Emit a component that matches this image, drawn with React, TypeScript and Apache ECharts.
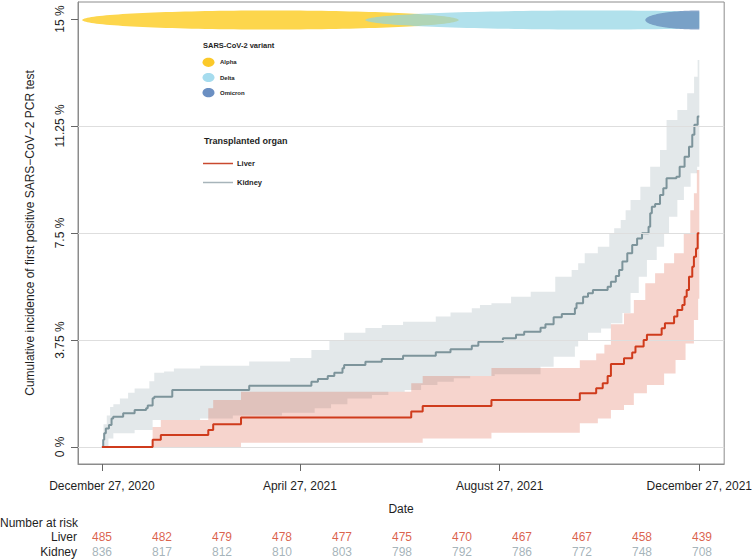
import React, { useEffect, useRef } from "react";
import * as echarts from "echarts";

// ---- axis ticks ----
const xTickDays = [0, 121, 243, 365];
const xTickLabels = ["December 27, 2020", "April 27, 2021", "August 27, 2021", "December 27, 2021"];
const yTicks = [0, 3.75, 7.5, 11.25, 15];
const gridValues = [0, 3.75, 7.5, 11.25];

// ---- cumulative incidence (days since Dec 27, 2020 ; percent) ----
const liverCurve = [[0,0],[31,0.25],[36,0.42],[65,0.6],[68,0.8],[85,1.03],[189,1.24],[196,1.44],[238,1.65],[292,1.88],[302,2.06],[306,2.23],[309,2.49],[311,2.91],[319,3.11],[324,3.31],[326,3.52],[331,3.75],[333,3.93],[342,4.16],[344,4.34],[349.6,4.57],[351.6,4.8],[354.6,4.98],[356,5.27],[357.3,5.5],[358.7,5.97],[360.7,6.32],[361.7,6.67],[363,6.96],[364,7.49],[365,7.49]];
const kidneyCurve = [[0,0],[0.8,0.25],[1.4,0.48],[2.4,0.65],[4.3,0.77],[5.9,1.0],[6.9,1.06],[13,1.18],[20,1.3],[27,1.36],[28,1.45],[31,1.71],[32,1.76],[43,2.0],[90,2.15],[128,2.29],[132,2.38],[138,2.49],[142,2.6],[147,2.76],[148,2.87],[161,2.99],[171,3.08],[184,3.2],[204,3.32],[213,3.43],[226,3.55],[230,3.69],[245,3.81],[253,3.93],[258,4.04],[268,4.18],[271,4.3],[276,4.55],[281,4.66],[289,4.86],[290,5.04],[294,5.27],[297,5.39],[300,5.5],[309,5.62],[311,5.79],[314,5.99],[316,6.2],[318,6.5],[321,6.79],[324,7.08],[327,7.31],[330,7.49],[334,7.72],[335,8.19],[336,8.42],[338,8.52],[341,8.83],[343,9.07],[345,9.42],[351,9.47],[353,9.82],[356,10.17],[358.7,10.52],[360.7,10.94],[362,11.29],[364,11.58],[365,11.58]];

// ---- confidence bands ----
const kidneyUpper = [[0,0],[1,0.8],[3,1.1],[5,1.4],[7,1.5],[11,1.7],[16,1.9],[20,2.05],[29,2.3],[32,2.6],[38,2.65],[44,2.75],[60,2.85],[90,3.0],[115,3.12],[128,3.4],[139,3.75],[148,4.0],[161,4.17],[171,4.28],[184,4.39],[204,4.57],[213,4.71],[226,4.86],[231,4.98],[238,5.04],[250,5.27],[262,5.44],[277,5.97],[287,6.2],[291,6.44],[295,6.79],[303,7.02],[310,7.49],[313,7.67],[317,7.96],[320,8.3],[323,8.66],[329,9.12],[335,9.82],[341,10.41],[345,11.46],[351.6,11.81],[357.6,12.4],[361.8,12.98],[364,13.56],[365,13.9]];
const kidneyLower = [[0,0],[4,0.3],[7,0.48],[20,0.6],[31,0.95],[60,1.0],[80,1.1],[110,1.2],[130,1.36],[140,1.5],[150,1.7],[165,1.82],[175,1.94],[185,2.0],[195,2.17],[205,2.29],[215,2.41],[225,2.49],[240,2.55],[268,2.81],[276,3.16],[289,3.52],[291,3.75],[297,4.0],[305,4.15],[311,4.34],[318,4.7],[323,5.4],[328,5.97],[333,6.55],[339,7.02],[343.5,7.49],[346.5,8.07],[351.6,8.66],[355.6,9.12],[359.7,9.59],[363.7,9.82],[365,9.82]];
const liverUpper = [[0,0],[31,0.7],[36,0.95],[65,1.36],[68,1.65],[85,1.94],[189,2.23],[196,2.49],[238,2.77],[292,3.04],[302,3.28],[307,3.58],[311,4.3],[319,4.69],[325,5.15],[332,5.74],[338,6.09],[343.5,6.44],[349.6,6.79],[355.5,7.49],[359.5,8.3],[361.7,8.89],[363.5,9.71],[365,9.8]];
const liverLower = [[0,0],[85,0.15],[196,0.3],[238,0.5],[292,0.83],[303,1.0],[311,1.3],[319,1.47],[325,1.88],[333,2.17],[343.5,2.58],[350.5,3.05],[356.6,3.63],[361.7,4.45],[364.3,5.2],[365,5.2]];

// ---- variant periods (days) ----
const variantNames = ["Alpha", "Delta", "Omicron"];
const variantStart = [-12, 161, 332];
const variantEnd = [218, 440, 398];
const variantLevel = 15;
const studyEndDay = 365;

// ---- number at risk ----
const riskDays = [0, 36.5, 73, 109.5, 146, 182.5, 219, 255.5, 292, 328.5, 365];
const liverRisk = [485, 482, 479, 478, 477, 475, 470, 467, 467, 458, 439];
const kidneyRisk = [836, 817, 812, 810, 803, 798, 792, 786, 772, 748, 708];

const FONT = "'Liberation Sans', Arial, sans-serif";
const LIVER = "#cf3b1c";
const KIDNEY = "#7d949b";
const TEXT = "#1e1e1e";
const BOX = "#8c8c8c";
const variantFill = ["rgb(253,214,76)", "rgba(144,212,228,0.7)", "rgba(100,136,184,0.72)"];
const variantLegendFill = ["#fbc92a", "#a6dcee", "#6b8fc2"];

function stepPoints(pts: number[][], api: any) {
  const out: number[][] = [];
  for (let i = 0; i < pts.length; i++) {
    const t = pts[i][0];
    if (i > 0) out.push(api.coord([t, pts[i - 1][1]]));
    out.push(api.coord([t, pts[i][1]]));
  }
  return out;
}

function bandSeries(upper: number[][], lower: number[][], fill: string, extra: any = {}) {
  return {
    type: "custom",
    coordinateSystem: "cartesian2d",
    xAxisIndex: 0,
    yAxisIndex: 0,
    silent: true,
    data: [[0, 0]],
    renderItem: (_p: any, api: any) => {
      const up = stepPoints(upper, api);
      const lo = stepPoints(lower, api).reverse();
      return { type: "polygon", shape: { points: up.concat(lo) }, style: { fill } };
    },
    ...extra,
  };
}

export default function App() {
  const ref = useRef<HTMLDivElement>(null);
  useEffect(() => {
    document.body.style.margin = "0";
    const chart = echarts.init(ref.current!, undefined, { renderer: "svg" });

    const ellipseSeries = {
      type: "custom",
      coordinateSystem: "cartesian2d",
      xAxisIndex: 0,
      yAxisIndex: 0,
      silent: true,
      data: variantNames.map((_, i) => [variantStart[i], variantEnd[i], i]),
      renderItem: (_p: any, api: any) => {
        const s = api.value(0), e = api.value(1), idx = api.value(2);
        const p0 = api.coord([s, variantLevel]);
        const p1 = api.coord([e, variantLevel]);
        const clipX = api.coord([studyEndDay, variantLevel])[0];
        const cx = (p0[0] + p1[0]) / 2, rx = (p1[0] - p0[0]) / 2, cy = p0[1] + 1;
        const ry = 9.5;
        const pts: number[][] = [];
        for (let k = 0; k < 160; k++) {
          const a = (k / 160) * Math.PI * 2;
          pts.push([Math.min(cx + rx * Math.cos(a), clipX), cy + ry * Math.sin(a)]);
        }
        return { type: "polygon", shape: { points: pts }, style: { fill: variantFill[idx] } };
      },
      z: 3,
    };

    const legendGraphics: any[] = [
      { type: "text", x: 203, y: 45, style: { text: "SARS-CoV-2 variant", fontFamily: FONT, fontWeight: "bold", fontSize: 7.5, fill: TEXT, align: "left", verticalAlign: "middle" } },
      { type: "text", x: 204, y: 141, style: { text: "Transplanted organ", fontFamily: FONT, fontWeight: "bold", fontSize: 9, fill: TEXT, align: "left", verticalAlign: "middle" } },
      { type: "line", shape: { x1: 203, y1: 163.5, x2: 233, y2: 163.5 }, style: { stroke: "#c9492f", lineWidth: 1.5 } },
      { type: "text", x: 237, y: 163.5, style: { text: "Liver", fontFamily: FONT, fontWeight: "bold", fontSize: 7.5, fill: TEXT, align: "left", verticalAlign: "middle" } },
      { type: "line", shape: { x1: 203, y1: 182.5, x2: 233, y2: 182.5 }, style: { stroke: "#a7b4ba", lineWidth: 1.5 } },
      { type: "text", x: 237, y: 182.5, style: { text: "Kidney", fontFamily: FONT, fontWeight: "bold", fontSize: 7.5, fill: TEXT, align: "left", verticalAlign: "middle" } },
      { type: "text", x: 78, y: 523, style: { text: "Number at risk", fontFamily: FONT, fontSize: 12, fill: TEXT, align: "right", verticalAlign: "middle" } },
    ];
    variantNames.forEach((n, i) => {
      const y = 62.3 + i * 15.2;
      legendGraphics.push({ type: "ellipse", shape: { cx: 208.5, cy: y, rx: 6, ry: 4.6 }, style: { fill: variantLegendFill[i] } });
      legendGraphics.push({ type: "text", x: 220, y, style: { text: n, fontFamily: FONT, fontWeight: "bold", fontSize: 6, fill: TEXT, align: "left", verticalAlign: "middle" } });
    });

    const riskLabel = (vals: number[], color: string) => ({
      show: true,
      position: "inside",
      formatter: (p: any) => String(vals[p.dataIndex]),
      color,
      fontSize: 12,
      fontFamily: FONT,
    });

    chart.setOption({
      animation: false,
      textStyle: { fontFamily: FONT },
      grid: [
        { left: 78, top: 2, width: 649, height: 462, show: true, borderColor: BOX, borderWidth: 1, backgroundColor: "transparent" },
        { left: 78, top: 529.5, width: 649, height: 30 },
      ],
      xAxis: [
        {
          type: "value", gridIndex: 0, min: -14.6, max: 380.2,
          axisLine: { show: true, onZero: false, lineStyle: { color: BOX } },
          axisTick: { show: true, customValues: xTickDays, length: 7, lineStyle: { color: "#666" } },
          axisLabel: { customValues: xTickDays, formatter: (v: number) => xTickLabels[xTickDays.indexOf(v)] ?? "", margin: 16, fontSize: 12, color: TEXT },
          splitLine: { show: false },
          name: "Date", nameLocation: "middle", nameGap: 39, nameTextStyle: { fontSize: 12, color: TEXT },
        },
        { type: "value", gridIndex: 1, min: -14.6, max: 380.2, show: false },
      ],
      yAxis: [
        {
          type: "value", gridIndex: 0, min: -0.596, max: 15.596,
          axisLine: { show: true, onZero: false, lineStyle: { color: BOX } },
          axisTick: { show: true, customValues: yTicks, length: 7, lineStyle: { color: "#666" } },
          axisLabel: { customValues: yTicks, rotate: 90, formatter: (v: number) => `${v} %`, margin: 12, fontSize: 12, color: TEXT },
          splitLine: { show: false },
          name: "Cumulative incidence of first positive SARS\u2212CoV\u22122 PCR test",
          nameLocation: "middle", nameRotate: 90, nameGap: 42, nameTextStyle: { fontSize: 12, color: TEXT },
        },
        {
          type: "category", gridIndex: 1, data: ["Kidney", "Liver"],
          axisLine: { show: false }, axisTick: { show: false }, splitLine: { show: false },
          axisLabel: { fontSize: 12, color: TEXT, margin: 1, interval: 0 },
        },
      ],
      series: [
        bandSeries(kidneyUpper, kidneyLower, "rgba(127,150,158,0.22)", {
          z: 1,
          markLine: {
            silent: true, symbol: ["none", "none"], label: { show: false },
            lineStyle: { color: "#dedede", width: 1, type: "solid" },
            data: gridValues.map((v) => ({ yAxis: v })),
          },
        }),
        bandSeries(liverUpper, liverLower, "rgba(212,57,27,0.22)", { z: 2 }),
        ellipseSeries,
        { type: "line", name: "Kidney", xAxisIndex: 0, yAxisIndex: 0, step: "end", symbol: "none", data: kidneyCurve, lineStyle: { color: KIDNEY, width: 2 }, z: 4 },
        { type: "line", name: "Liver", xAxisIndex: 0, yAxisIndex: 0, step: "end", symbol: "none", data: liverCurve, lineStyle: { color: LIVER, width: 2 }, z: 5 },
        { type: "scatter", xAxisIndex: 1, yAxisIndex: 1, symbolSize: 1, itemStyle: { color: "rgba(0,0,0,0)" }, data: riskDays.map((d) => [d, "Liver"]), label: riskLabel(liverRisk, "#d2391b"), silent: true },
        { type: "scatter", xAxisIndex: 1, yAxisIndex: 1, symbolSize: 1, itemStyle: { color: "rgba(0,0,0,0)" }, data: riskDays.map((d) => [d, "Kidney"]), label: riskLabel(kidneyRisk, "#8ea0a8"), silent: true },
      ],
      graphic: legendGraphics,
    });
    return () => chart.dispose();
  }, []);
  return <div ref={ref} style={{ width: 755, height: 560 }} />;
}
